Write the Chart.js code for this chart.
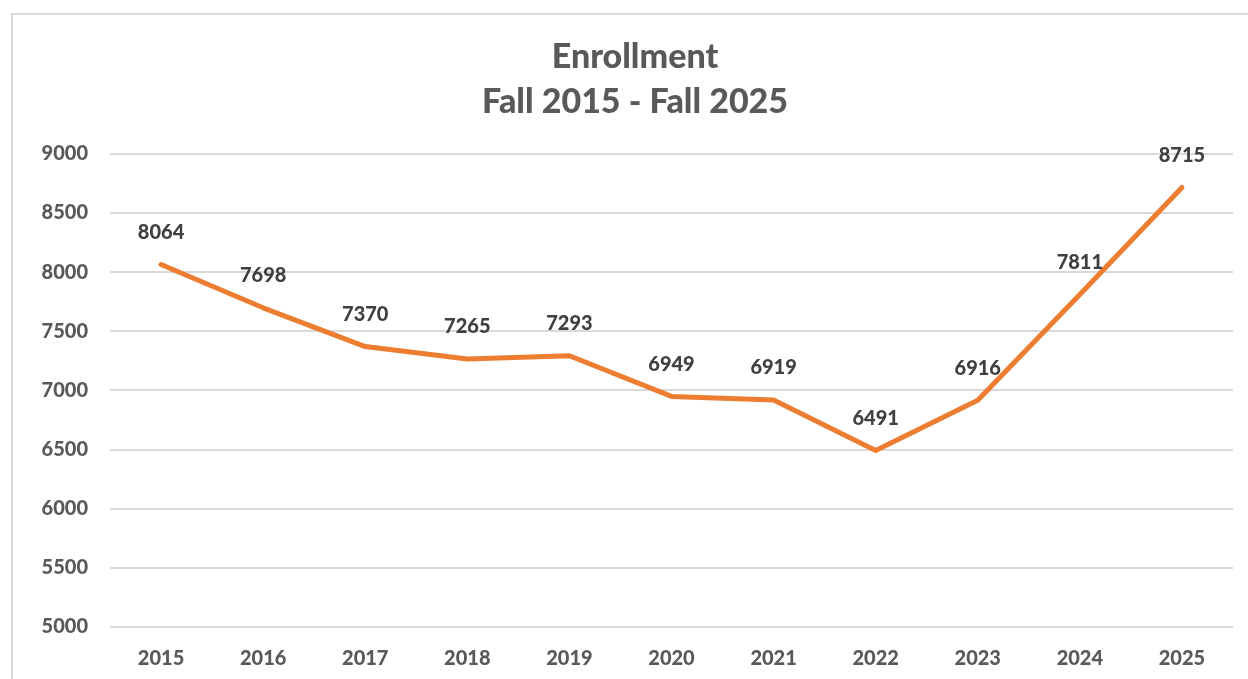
<!DOCTYPE html>
<html>
<head>
<meta charset="utf-8">
<script src="https://cdn.jsdelivr.net/npm/chart.js@4"></script>
<style>
    body { margin: 0; background: #fff; overflow: hidden; }
    #frame { position: absolute; left: 11px; top: 13px; width: 1300px; height: 700px; border: 2px solid #d9d9d9; }
    #wrap { position: absolute; left: 0; top: 0; width: 1248px; height: 679px; }
</style>
</head>
<body>
<div id="frame"></div>
<div id="wrap"><canvas id="chart"></canvas></div>
<script>
const years = ['2015', '2016', '2017', '2018', '2019', '2020', '2021', '2022', '2023', '2024', '2025']
const enrollment = [8064, 7698, 7370, 7265, 7293, 6949, 6919, 6491, 6916, 7811, 8715]
const yTicks = [5000, 5500, 6000, 6500, 7000, 7500, 8000, 8500, 9000]

const fontFamily = 'Lato, "Open Sans", sans-serif'

// draw value labels above each point, like Excel's "Above" position
const valueLabels = {
    id: 'valueLabels',
    afterDatasetsDraw(chart) {
        const ctx = chart.ctx
        const meta = chart.getDatasetMeta(0)
        ctx.save()
        ctx.font = `900 20px ${fontFamily}`
        ctx.fillStyle = '#404040'
        ctx.textAlign = 'center'
        ctx.textBaseline = 'middle'
        meta.data.forEach((point, index) => {
            ctx.fillText(String(enrollment[index]), point.x, point.y - 32)
        })
        ctx.restore()
    }
}

new Chart(document.getElementById('chart').getContext('2d'), {
    type: 'line',
    data: {
        labels: years,
        datasets: [
            {
                label: 'Enrollment',
                data: enrollment,
                borderColor: '#ED7D31',
                backgroundColor: '#ED7D31',
                borderWidth: 5,
                pointRadius: 0,
                tension: 0,
                borderCapStyle: 'round',
                borderJoinStyle: 'round'
            }
        ]
    },
    options: {
        responsive: true,
        maintainAspectRatio: false,
        animation: false,
        layout: { padding: { left: 37, right: 15, top: 0, bottom: 0 } },
        plugins: {
            legend: { display: false },
            tooltip: { enabled: false },
            title: {
                display: true,
                text: ['Enrollment', 'Fall 2015 - Fall 2025'],
                color: '#595959',
                font: { family: fontFamily, size: 34, weight: 900, lineHeight: 1.32 },
                padding: { top: 35, bottom: 29 }
            }
        },
        scales: {
            x: {
                offset: true,
                grid: { display: false, drawTicks: false },
                border: { display: false },
                ticks: {
                    color: '#595959',
                    font: { family: fontFamily, size: 20, weight: 900 },
                    padding: 20,
                    maxRotation: 0
                },
                afterFit(scale) { scale.height = 52 }
            },
            y: {
                min: 5000,
                max: 9000,
                grid: { color: '#d9d9d9', lineWidth: 2, drawTicks: false },
                border: { display: false },
                afterBuildTicks(scale) { scale.ticks = yTicks.map((value) => ({ value })) },
                ticks: {
                    color: '#595959',
                    font: { family: fontFamily, size: 20, weight: 900 },
                    padding: 22,
                    callback: (value) => String(value)
                },
                afterFit(scale) { scale.width = 73 }
            }
        }
    },
    plugins: [valueLabels]
})
</script>
</body>
</html>
